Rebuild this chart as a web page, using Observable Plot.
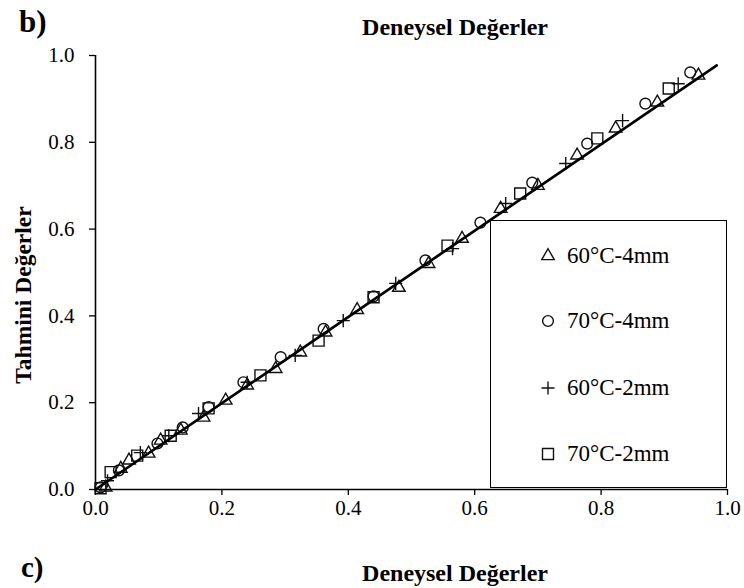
<!DOCTYPE html>
<html>
<head>
<meta charset="utf-8">
<script src="https://cdn.jsdelivr.net/npm/d3@7"></script>
<script src="https://cdn.jsdelivr.net/npm/@observablehq/plot@0.6"></script>
<style>
  html, body { margin: 0; padding: 0; background: #fff; }
  #wrap { position: relative; width: 744px; height: 588px; overflow: hidden; font-family: "Liberation Serif", "Times New Roman", serif; color: #000; }
  #wrap svg.plot { position: absolute; left: 0; top: 0; }
  .abs { position: absolute; white-space: nowrap; line-height: 1; }
  .panel { font-weight: bold; font-size: 31px; }
  .panelc { font-weight: bold; font-size: 29px; }
  .title { font-weight: bold; font-size: 24px; width: 300px; text-align: center; }
  .ylab { font-weight: bold; font-size: 23.5px; transform: translate(-50%, -50%) rotate(-90deg); }
  #legend { position: absolute; left: 490px; top: 220px; width: 237px; height: 268px; box-sizing: border-box; border: 1.5px solid #000; background: #fff; }
  .item { position: absolute; font-size: 23px; line-height: 1; white-space: nowrap; }
  .sym { position: absolute; }
</style>
</head>
<body>
<div id="wrap"></div>
<script>
// Series: experimental (x) vs predicted (y)
const tri_x  = [0.016,0.040,0.053,0.084,0.103,0.135,0.171,0.206,0.240,0.285,0.324,0.364,0.414,0.480,0.527,0.580,0.641,0.700,0.762,0.823,0.889,0.954];
const tri_y  = [0.005,0.048,0.067,0.083,0.113,0.136,0.166,0.205,0.240,0.278,0.316,0.362,0.414,0.465,0.520,0.578,0.647,0.700,0.770,0.832,0.892,0.954];
const circ_x = [0.008,0.037,0.098,0.138,0.179,0.234,0.293,0.361,0.440,0.522,0.609,0.691,0.778,0.870,0.941];
const circ_y = [0.005,0.044,0.106,0.143,0.190,0.247,0.305,0.370,0.445,0.528,0.615,0.707,0.797,0.889,0.961];
const plus_x = [0.019,0.071,0.116,0.163,0.240,0.316,0.392,0.475,0.565,0.649,0.744,0.834,0.922];
const plus_y = [0.020,0.085,0.124,0.175,0.247,0.309,0.389,0.475,0.555,0.659,0.751,0.850,0.935];
const sq_x   = [0.008,0.024,0.066,0.119,0.179,0.261,0.353,0.440,0.557,0.672,0.794,0.907];
const sq_y   = [0.003,0.040,0.078,0.124,0.187,0.263,0.343,0.443,0.562,0.682,0.809,0.924];
const fit_x  = [0.000,0.983];
const fit_y  = [0.000,0.977];
const ticks  = [0,0.2,0.4,0.6,0.8,1.0];
const seriesNames = ["60°C-4mm","70°C-4mm","60°C-2mm","70°C-2mm"];
const titleText = "Deneysel Değerler";
const yLabelText = "Tahmini Değerler";

const zip = (xs, ys) => xs.map((x, i) => ({x, y: ys[i]}));
const font = '"Liberation Serif", "Times New Roman", serif';
const ink = "#111";

const plot = Plot.plot({
  width: 744,
  height: 588,
  marginLeft: 95,
  marginRight: 17,
  marginTop: 55,
  marginBottom: 99,
  x: {domain: [0, 1]},
  y: {domain: [0, 1]},
  style: {fontFamily: font, fontSize: "21px", color: "#000", background: "transparent", overflow: "visible"},
  marks: [
    Plot.axisX({ticks, tickFormat: d => d.toFixed(1), tickSize: 6, tickPadding: 5, fontSize: 21, label: null, stroke: "#000", strokeWidth: 1.3}),
    Plot.axisY({ticks, tickFormat: d => d.toFixed(1), tickSize: 6, tickPadding: 15, fontSize: 21, label: null, stroke: "#000", strokeWidth: 1.3}),
    Plot.ruleX([0], {stroke: "#000", strokeWidth: 1.6}),
    Plot.ruleY([0], {stroke: "#000", strokeWidth: 1.6}),
    Plot.dot(zip(sq_x, sq_y), {x: "x", y: "y", symbol: "square2", r: 7, stroke: ink, strokeWidth: 1.4, fill: "none"}),
    Plot.dot(zip(plus_x, plus_y), {x: "x", y: "y", symbol: "plus", r: 4.3, stroke: ink, strokeWidth: 1.4, fill: "none"}),
    Plot.dot(zip(circ_x, circ_y), {x: "x", y: "y", symbol: "circle", r: 5.4, stroke: ink, strokeWidth: 1.4, fill: "none"}),
    Plot.dot(zip(tri_x, tri_y), {x: "x", y: "y", symbol: "triangle2", r: 6, stroke: ink, strokeWidth: 1.4, fill: "none"}),
    Plot.line(zip(fit_x, fit_y), {x: "x", y: "y", stroke: "#000", strokeWidth: 2.7})
  ]
});

const wrap = document.getElementById("wrap");
wrap.appendChild(plot);

function addText(cls, text, css) {
  const d = document.createElement("div");
  d.className = "abs " + cls;
  d.textContent = text;
  Object.assign(d.style, css);
  wrap.appendChild(d);
  return d;
}
addText("panel", "b)", {left: "19px", top: "6px"});
addText("title", titleText, {left: "305px", top: "15px"});
addText("ylab", yLabelText, {left: "24px", top: "295px"});
addText("panelc", "c)", {left: "21px", top: "553px"});
addText("title", titleText, {left: "305px", top: "561px"});

// Legend (HTML box with symbols generated by d3.symbol)
const legend = document.createElement("div");
legend.id = "legend";
wrap.appendChild(legend);
const symDefs = [
  {type: d3.symbolTriangle2, size: Math.PI * 6 * 6},
  {type: d3.symbolCircle,    size: Math.PI * 5.4 * 5.4},
  {type: d3.symbolPlus,      size: Math.PI * 4.3 * 4.3},
  {type: d3.symbolSquare2,   size: Math.PI * 7 * 7}
];
const itemTops = [35, 100, 167, 233]; // center offsets inside legend box
seriesNames.forEach((name, i) => {
  const s = document.createElementNS("http://www.w3.org/2000/svg", "svg");
  s.setAttribute("width", 22); s.setAttribute("height", 22);
  s.setAttribute("class", "sym");
  s.style.left = (57 - 11) + "px";
  s.style.top = (itemTops[i] - 11) + "px";
  const p = document.createElementNS("http://www.w3.org/2000/svg", "path");
  p.setAttribute("d", d3.symbol().type(symDefs[i].type).size(symDefs[i].size)());
  p.setAttribute("transform", "translate(11,11)");
  p.setAttribute("fill", "none");
  p.setAttribute("stroke", ink);
  p.setAttribute("stroke-width", 1.4);
  s.appendChild(p);
  legend.appendChild(s);
  const t = document.createElement("div");
  t.className = "item";
  t.textContent = name;
  t.style.left = "76px";
  t.style.top = (itemTops[i] - 12) + "px";
  legend.appendChild(t);
});
</script>
</body>
</html>
